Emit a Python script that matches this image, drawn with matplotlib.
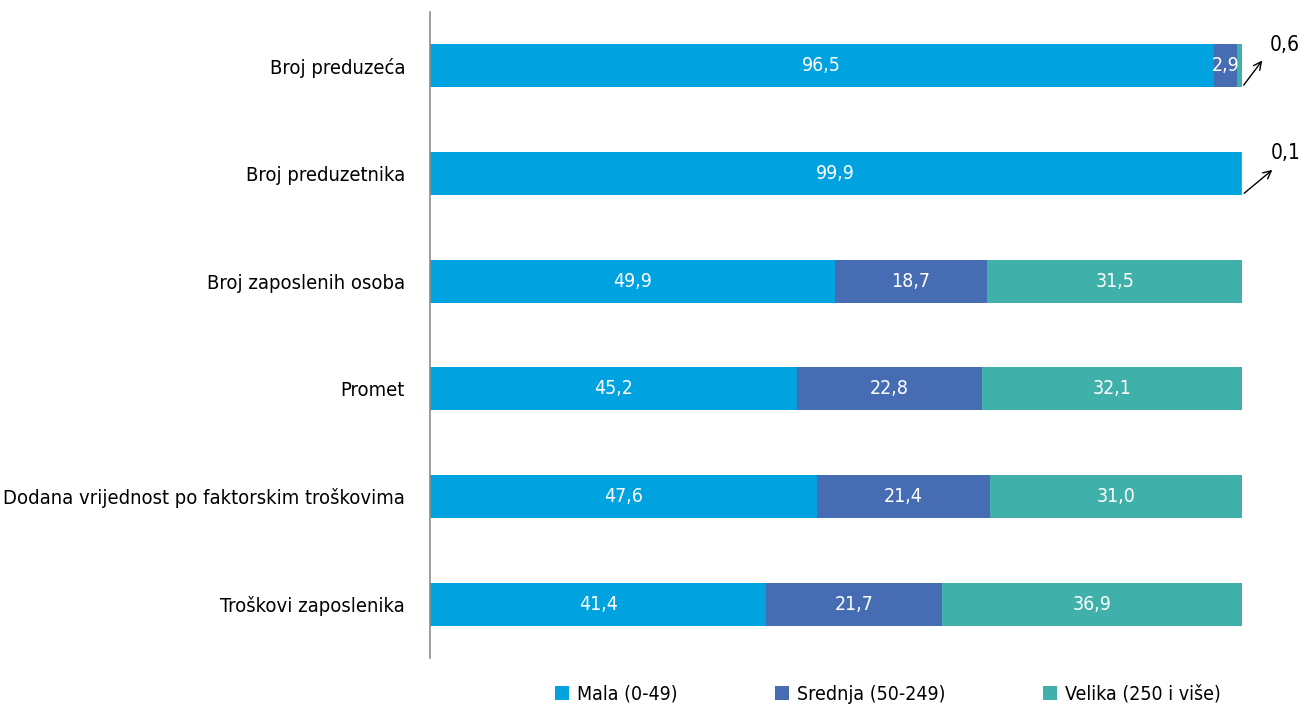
import matplotlib.pyplot as plt
from matplotlib.patches import Patch
import numpy as np

plt.rcParams['font.family'] = ['DejaVu Sans']
plt.rcParams['font.stretch'] = 'condensed'

categories = ["Broj preduzeća", "Broj preduzetnika", "Broj zaposlenih osoba",
              "Promet", "Dodana vrijednost po faktorskim troškovima",
              "Troškovi zaposlenika"]
mala = [96.5, 99.9, 49.9, 45.2, 47.6, 41.4]
srednja = [2.9, 0.0, 18.7, 22.8, 21.4, 21.7]
velika = [0.6, 0.1, 31.5, 32.1, 31.0, 36.9]
series_names = ["Mala (0-49)", "Srednja (50-249)", "Velika (250 i više)"]
colors = ["#00A3E0", "#466DB3", "#40B1AA"]


def fmt(v):
    return f"{v:.1f}".replace(".", ",")


fig = plt.figure(figsize=(13, 7.1), dpi=100)
ax = fig.add_axes([430 / 1300, 1 - 658 / 710, 812 / 1300, 646 / 710])

y = np.arange(len(categories))
left = np.zeros(len(categories))
for vals, col in zip([mala, srednja, velika], colors):
    vals = np.array(vals)
    ax.barh(y, vals, left=left, height=0.4, color=col, edgecolor='none')
    for yi, (l, v) in enumerate(zip(left, vals)):
        if v >= 2:
            ax.text(l + v / 2, yi, fmt(v), ha='center', va='center',
                    color='white', fontsize=14)
    left = left + vals

# small segments labelled outside with arrows
for yi, dx, ty, lx in [(0, 2.7, -0.07, 3.4), (1, 4.0, -0.05, 3.6)]:
    ax.annotate("", xy=(100 + dx, yi + ty), xytext=(100, yi + 0.2),
                arrowprops=dict(arrowstyle='->', color='black', lw=1,
                                mutation_scale=14),
                annotation_clip=False)
    ax.text(100 + lx, yi - 0.19, fmt(velika[yi]), ha='left',
            va='center', fontsize=15, clip_on=False)

ax.set_xlim(0, 100)
ax.set_ylim(len(categories) - 0.5, -0.5)
ax.set_yticks(y)
ax.set_yticklabels(categories, fontsize=14.5)
ax.set_xticks([])
ax.tick_params(axis='y', length=0, pad=18)
for s in ['top', 'right', 'bottom']:
    ax.spines[s].set_visible(False)
ax.spines['left'].set_color('#8c8c8c')
ax.spines['left'].set_linewidth(1.2)

handles = [Patch(facecolor=c, edgecolor='none') for c in colors]
fig.legend(handles, series_names, loc='center', bbox_to_anchor=(0.683, 0.022),
           ncol=3, frameon=False, fontsize=14, handlelength=0.75,
           handleheight=0.75, handletextpad=0.4, columnspacing=5.0)

fig.savefig("out.png", dpi=100)
